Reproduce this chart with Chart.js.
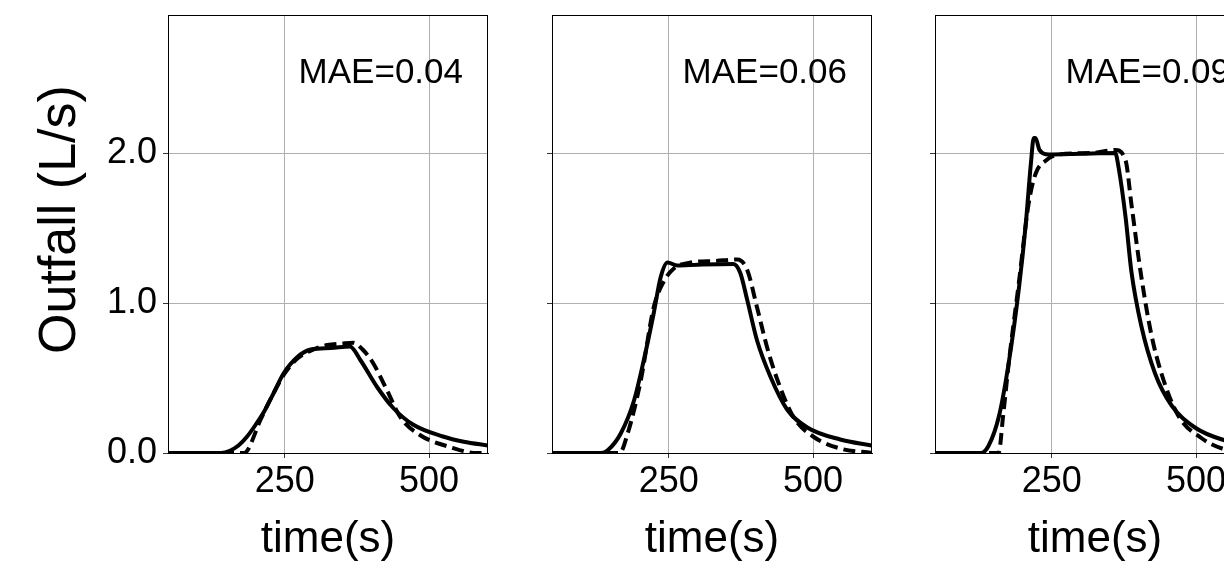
<!DOCTYPE html>
<html>
<head>
<meta charset="utf-8">
<script src="https://cdn.jsdelivr.net/npm/chart.js@4.4.1/dist/chart.umd.min.js"></script>
<style>
    html, body { margin: 0; padding: 0; background: #fff; overflow: hidden; width: 1224px; height: 568px; }
    .painel { position: absolute; top: 0; height: 568px; }
</style>
</head>
<body>
<div class="painel" style="left:0px;width:500px"><canvas id="grafico1"></canvas></div>
<div class="painel" style="left:532px;width:360px"><canvas id="grafico2"></canvas></div>
<div class="painel" style="left:915px;width:360px"><canvas id="grafico3"></canvas></div>
<script>
// valores: tempo (s) e vazão (L/s)
const tempoSolido1 = [48, 100, 140, 155, 170, 185, 200, 215, 231, 248, 272, 295, 330, 363, 381, 410, 438, 472, 524, 560, 602];
const solido1 = [0, 0, 0, 0.015, 0.05, 0.11, 0.19, 0.28, 0.40, 0.53, 0.64, 0.69, 0.70, 0.71, 0.62, 0.44, 0.30, 0.19, 0.11, 0.075, 0.05];
const tempoTracejado1 = [48, 180, 186, 208, 231, 250, 272, 300, 324, 350, 369, 385, 403, 427, 450, 484, 536, 582, 602];
const tracejado1 = [0, 0, 0.02, 0.22, 0.40, 0.53, 0.63, 0.69, 0.72, 0.73, 0.735, 0.69, 0.60, 0.42, 0.24, 0.12, 0.04, 0.0, 0.0];

const tempoSolido2 = [48, 133, 145, 167, 190, 207, 224, 236, 248, 265, 300, 362, 374, 386, 403, 426, 455, 490, 547, 602];
const solido2 = [0, 0, 0.02, 0.13, 0.35, 0.62, 0.93, 1.17, 1.27, 1.25, 1.255, 1.26, 1.20, 1.02, 0.75, 0.51, 0.29, 0.17, 0.09, 0.05];
const tempoTracejado2 = [48, 165, 179, 202, 224, 241, 259, 288, 330, 369, 386, 403, 420, 438, 466, 500, 547, 602];
const tracejado2 = [0, 0, 0.13, 0.49, 0.97, 1.14, 1.23, 1.27, 1.28, 1.29, 1.22, 0.97, 0.71, 0.49, 0.24, 0.11, 0.03, 0.0];

const tempoSolido3 = [48, 128, 141, 159, 176, 193, 205, 214, 219, 222, 229, 245, 300, 360, 366, 378, 388, 405, 429, 457, 498, 545, 602];
const solido3 = [0, 0, 0.05, 0.25, 0.61, 1.09, 1.52, 1.93, 2.10, 2.10, 2.02, 1.99, 1.995, 2.00, 1.90, 1.57, 1.21, 0.85, 0.53, 0.32, 0.17, 0.09, 0.05];
const tempoTracejado3 = [48, 158, 166, 176, 193, 210, 222, 240, 262, 320, 360, 378, 388, 405, 422, 440, 469, 509, 545, 602];
const tracejado3 = [0, 0, 0.25, 0.61, 1.13, 1.66, 1.86, 1.95, 1.99, 2.00, 2.02, 1.95, 1.66, 1.18, 0.80, 0.53, 0.25, 0.10, 0.03, 0.0];

const rotulosMAE = ['MAE=0.04', 'MAE=0.06', 'MAE=0.09'];
const ticksX = [250, 500];
const ticksY = [0, 1, 2];
const limitesX = [48, 602];
const limitesY = [0, 2.92];

const fonte = "'Liberation Sans', Arial, sans-serif";

function pontos(tempos, valores) {
    return tempos.map((t, i) => ({ x: t, y: valores[i] }));
}

const moldura = {
    id: 'moldura',
    afterDatasetsDraw(chart) {
        const { ctx, chartArea } = chart;
        ctx.save();
        ctx.strokeStyle = '#000';
        ctx.lineWidth = 1;
        ctx.strokeRect(chartArea.left + 0.5, chartArea.top + 0.5, chartArea.right - chartArea.left - 1, chartArea.bottom - chartArea.top);
        const texto = chart.options.plugins.moldura.texto;
        ctx.fillStyle = '#000';
        ctx.font = '35px ' + fonte;
        ctx.textAlign = 'right';
        ctx.textBaseline = 'alphabetic';
        ctx.fillText(texto, chartArea.right - 25, chartArea.top + 68);
        ctx.restore();
    }
};

function criarGrafico(id, solido, tracejado, texto, primeiro) {
    const ctx = document.getElementById(id).getContext('2d');
    return new Chart(ctx, {
        type: 'line',
        data: {
            datasets: [
                {
                    data: solido,
                    borderColor: '#000',
                    borderWidth: 4,
                    pointRadius: 0,
                    cubicInterpolationMode: 'monotone',
                    fill: false
                },
                {
                    data: tracejado,
                    borderColor: '#000',
                    borderWidth: 4,
                    borderDash: [12, 6],
                    pointRadius: 0,
                    cubicInterpolationMode: 'monotone',
                    fill: false
                }
            ]
        },
        options: {
            responsive: true,
            maintainAspectRatio: false,
            animation: false,
            layout: { padding: { top: 15, right: primeiro ? 12 : 20, left: 0, bottom: 0 } },
            plugins: {
                legend: { display: false },
                tooltip: { enabled: false },
                moldura: { texto }
            },
            scales: {
                x: {
                    type: 'linear',
                    min: limitesX[0],
                    max: limitesX[1],
                    afterBuildTicks: escala => { escala.ticks = ticksX.map(v => ({ value: v })); },
                    afterFit: escala => {
                        escala.height = 115;
                        escala.paddingLeft = 0;
                        escala.paddingRight = 0;
                    },
                    grid: { color: '#b0b0b0', lineWidth: 1, tickLength: 5, tickColor: '#333' },
                    border: { color: '#000', width: 1 },
                    ticks: { color: '#000', padding: 2, maxRotation: 0, font: { family: fonte, size: 36 } },
                    title: {
                        display: true,
                        text: 'time(s)',
                        color: '#000',
                        padding: { top: 0, bottom: 2 },
                        font: { family: fonte, size: 44 }
                    }
                },
                y: {
                    min: limitesY[0],
                    max: limitesY[1],
                    afterBuildTicks: escala => { escala.ticks = ticksY.map(v => ({ value: v })); },
                    afterFit: escala => {
                        escala.width = primeiro ? 168 : 20;
                        escala.paddingTop = 0;
                        escala.paddingBottom = 0;
                    },
                    grid: { color: '#b0b0b0', lineWidth: 1, tickLength: 5, tickColor: '#333' },
                    border: { color: '#000', width: 1 },
                    ticks: {
                        display: primeiro,
                        color: '#000',
                        padding: 6,
                        font: { family: fonte, size: 36 },
                        callback: v => Number(v).toFixed(1)
                    },
                    title: {
                        display: primeiro,
                        text: '\u00a0\u00a0Outfall (L/s)',
                        color: '#000',
                        padding: { top: 29, bottom: 0 },
                        font: { family: fonte, size: 52 }
                    }
                }
            }
        },
        plugins: [moldura]
    });
}

criarGrafico('grafico1', pontos(tempoSolido1, solido1), pontos(tempoTracejado1, tracejado1), rotulosMAE[0], true);
criarGrafico('grafico2', pontos(tempoSolido2, solido2), pontos(tempoTracejado2, tracejado2), rotulosMAE[1], false);
criarGrafico('grafico3', pontos(tempoSolido3, solido3), pontos(tempoTracejado3, tracejado3), rotulosMAE[2], false);
</script>
</body>
</html>
